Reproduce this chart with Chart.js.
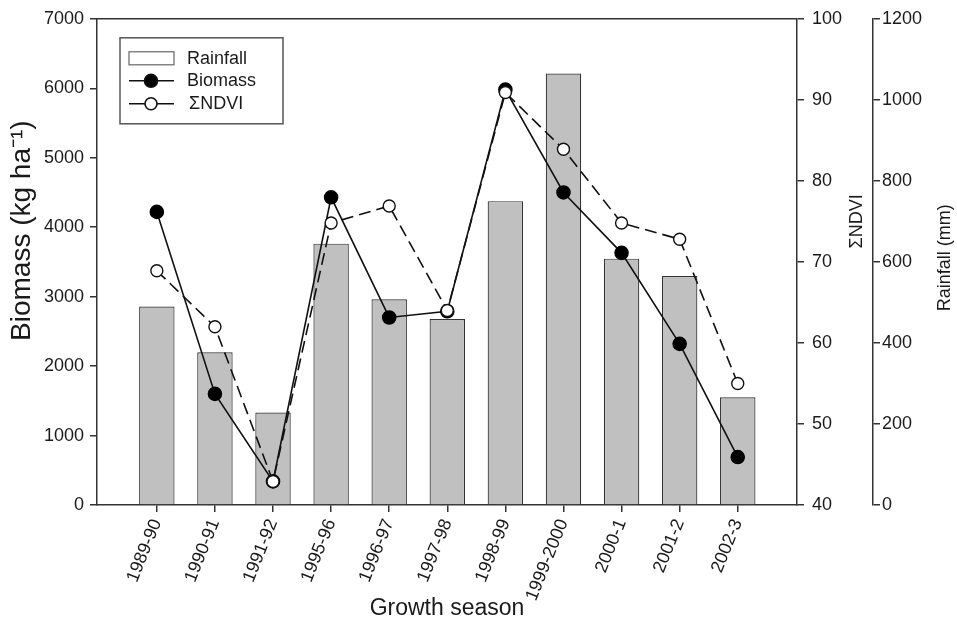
<!DOCTYPE html>
<html>
<head>
<meta charset="utf-8">
<script src="https://cdn.jsdelivr.net/npm/chart.js@4.4.1/dist/chart.umd.min.js"></script>
<style>
  body { margin: 0; background: #fff; }
  #wrap { width: 957px; height: 622px; position: relative; }
</style>
</head>
<body>
<div id="wrap"><canvas id="chart"></canvas></div>
<script>
const seasons = ['1989-90', '1990-91', '1991-92', '1995-96', '1996-97', '1997-98', '1998-99', '1999-2000', '2000-1', '2001-2', '2002-3'];
const rainfall = [490, 377, 228, 645, 508, 459, 750, 1065, 608, 565, 266];
const biomass = [4220, 1600, 340, 4430, 2700, 2790, 5980, 4500, 3630, 2320, 690];
const ndvi = [68.9, 62.0, 42.9, 74.8, 76.9, 64.0, 90.9, 83.9, 74.8, 72.8, 55.0];

const biomassTicks = [0, 1000, 2000, 3000, 4000, 5000, 6000, 7000];
const ndviTicks = [40, 50, 60, 70, 80, 90, 100];
const rainTicks = [0, 200, 400, 600, 800, 1000, 1200];

const FONT = "'Liberation Sans', Arial, sans-serif";
const INK = '#1a1a1a';
const LINE = '#333';

const pts = arr => arr.map((v, i) => ({ x: i, y: v }));
const fixTicks = list => scale => { scale.ticks = list.map(v => ({ value: v })); };

function vText(ctx, text, x, y, size) {
  ctx.save();
  ctx.font = size + 'px ' + FONT;
  ctx.translate(x, y);
  ctx.rotate(-Math.PI / 2);
  ctx.fillText(text, 0, 0);
  ctx.restore();
}

// frame top line, axis titles (all read bottom-to-top) and the boxed legend
const extras = {
  id: 'extras',
  afterDraw(chart) {
    const { ctx, chartArea } = chart;
    const y = chart.scales.y, y1 = chart.scales.y1, y2 = chart.scales.y2;
    ctx.save();
    ctx.strokeStyle = LINE;
    ctx.lineWidth = 1.5;
    ctx.beginPath();
    ctx.moveTo(chartArea.left, chartArea.top);
    ctx.lineTo(chartArea.right, chartArea.top);
    ctx.stroke();

    ctx.fillStyle = INK;
    ctx.textAlign = 'center';
    ctx.textBaseline = 'middle';
    vText(ctx, 'Biomass (kg ha⁻¹)', y.left + 22, y.getPixelForValue(3950), 28);
    vText(ctx, 'ΣNDVI', y1.right - 16, y1.getPixelForValue(75), 18);
    vText(ctx, 'Rainfall (mm)', y2.right - 12, y2.getPixelForValue(610), 18);

    // legend
    const bx = chartArea.left + 23, by = chartArea.top + 19;
    ctx.strokeStyle = '#555';
    ctx.lineWidth = 1.5;
    ctx.strokeRect(bx, by, 163, 86);
    ctx.font = '18px ' + FONT;
    ctx.textAlign = 'left';
    const ds = chart.data.datasets;
    const rows = [by + 21, by + 43, by + 66];
    ctx.strokeStyle = '#666';
    ctx.lineWidth = 1.2;
    ctx.fillStyle = '#fff';
    ctx.fillRect(bx + 9, rows[0] - 7, 45, 13);
    ctx.strokeRect(bx + 9, rows[0] - 7, 45, 13);
    ctx.fillStyle = INK;
    ctx.fillText(ds[0].label, bx + 67, rows[0]);
    [1, 2].forEach((k, j) => {
      const ry = rows[j + 1];
      ctx.strokeStyle = ds[k].borderColor;
      ctx.lineWidth = ds[k].borderWidth;
      ctx.beginPath();
      ctx.moveTo(bx + 9, ry);
      ctx.lineTo(bx + 54, ry);
      ctx.stroke();
      ctx.beginPath();
      ctx.arc(bx + 31, ry, ds[k].pointRadius, 0, Math.PI * 2);
      ctx.fillStyle = ds[k].pointBackgroundColor;
      ctx.fill();
      ctx.stroke();
      ctx.fillStyle = INK;
      ctx.fillText(ds[k].label, bx + (k === 2 ? 69 : 67), ry);
    });
    ctx.restore();
  }
};

const border = { display: true, color: LINE, width: 1.5 };
const grid = { drawOnChartArea: false, drawTicks: true, tickLength: 7, color: LINE, lineWidth: 1.5, offset: false };
const tickFont = { family: FONT, size: 18 };
const plain = v => String(v);

new Chart(document.getElementById('chart'), {
  type: 'bar',
  data: {
    datasets: [{
      type: 'bar',
      label: 'Rainfall',
      data: pts(rainfall),
      yAxisID: 'y2',
      backgroundColor: '#c0c0c0',
      borderColor: '#333',
      borderWidth: 1.2,
      categoryPercentage: 1,
      barPercentage: 0.61,
      order: 2
    }, {
      type: 'line',
      label: 'Biomass',
      data: pts(biomass),
      yAxisID: 'y',
      borderColor: '#111',
      borderWidth: 1.6,
      pointRadius: 6.5,
      pointBackgroundColor: '#000',
      pointBorderColor: '#000',
      tension: 0,
      order: 1
    }, {
      type: 'line',
      label: 'ΣNDVI',
      data: pts(ndvi),
      yAxisID: 'y1',
      borderColor: '#111',
      borderWidth: 1.6,
      borderDash: [12, 6],
      pointRadius: 6,
      pointBackgroundColor: '#fff',
      pointBorderColor: '#111',
      pointBorderWidth: 1.4,
      tension: 0,
      order: 0
    }]
  },
  options: {
    responsive: true,
    maintainAspectRatio: false,
    animation: false,
    layout: { padding: { top: 17, right: 0, bottom: 0, left: 0 } },
    plugins: {
      legend: { display: false },
      tooltip: { enabled: false }
    },
    scales: {
      x: {
        type: 'linear',
        min: -1.03,
        max: 11.02,
        offset: false,
        afterBuildTicks: fixTicks(seasons.map((s, i) => i)),
        afterFit(scale) { scale.height = 117; },
        border,
        grid,
        ticks: {
          color: INK,
          font: tickFont,
          minRotation: 68,
          maxRotation: 68,
          padding: 4,
          autoSkip: false,
          callback: v => seasons[Math.round(v)]
        },
        title: {
          display: true,
          text: 'Growth season',
          color: INK,
          font: { family: FONT, size: 23 },
          padding: { top: 0, bottom: 0 }
        }
      },
      y: {
        position: 'left',
        min: 0,
        max: 7000,
        afterBuildTicks: fixTicks(biomassTicks),
        afterFit(scale) { scale.width = 97; },
        border,
        grid,
        ticks: { color: INK, font: tickFont, padding: 6, callback: plain }
      },
      y1: {
        position: 'right',
        min: 40,
        max: 100,
        afterBuildTicks: fixTicks(ndviTicks),
        afterFit(scale) { scale.width = 76; },
        border,
        grid,
        ticks: { color: INK, font: tickFont, padding: 8, callback: plain }
      },
      y2: {
        position: 'right',
        min: 0,
        max: 1200,
        afterBuildTicks: fixTicks(rainTicks),
        afterFit(scale) { scale.width = 84; },
        border,
        grid,
        ticks: { color: INK, font: tickFont, padding: 2, callback: plain }
      }
    }
  },
  plugins: [extras]
});
</script>
</body>
</html>
